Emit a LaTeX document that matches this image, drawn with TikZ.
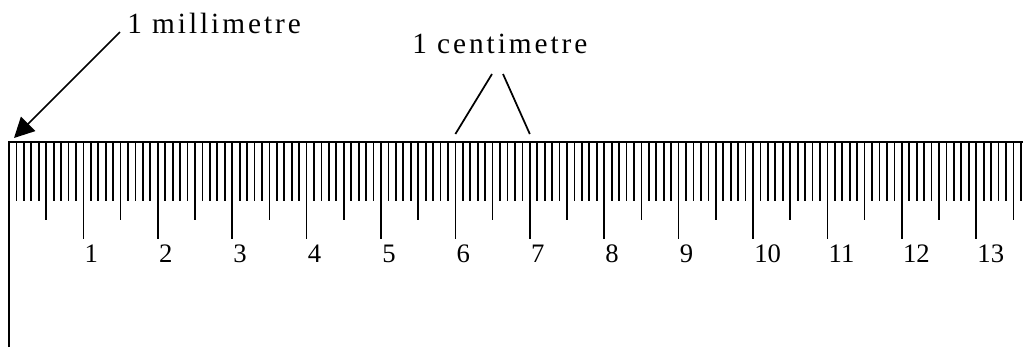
\documentclass[tikz,border=0pt]{standalone}
\usepackage{fontspec}
\setmainfont{Liberation Serif}
\newfontfamily\spacedfont[LetterSpace=10]{Liberation Serif}
\usetikzlibrary{arrows.meta,calc}

\begin{document}
\begin{tikzpicture}[x=0.75pt, y=-0.75pt,
    rule/.style={line width=1.3pt},
    caption/.style={font=\spacedfont\fontsize{22}{26}\selectfont, inner sep=0pt, anchor=base west},
    num/.style={font=\fontsize{20}{24}\selectfont, inner sep=0pt, anchor=base west}
]
    \useasboundingbox (0,0) rectangle (1023,347);

    % Ruler edge
    \draw[rule] (9,347) -- (9,142) -- (1023,142);

    % Millimetre ticks
    \foreach \i [evaluate=\i as \len using {mod(\i,10)==0 ? 239 : (mod(\i,5)==0 ? 220 : 201)}] in {1,...,136}
        \draw[rule] (9+7.44*\i,142) -- (9+7.44*\i,\len);

    % Centimetre numbers
    \foreach \c in {1,...,13}
        \node[num] (n\c) at (10+74.4*\c,262) {\c};

    % Captions
    \node[caption] (mm) at (127,33) {1 millimetre};
    \node[caption] (cm) at (412,53) {1 centimetre};

    \coordinate (mmtip) at (14,138);
    \coordinate (cm6) at (9+74.4*6,134);
    \coordinate (cm7) at (9+74.4*7,134);

    % Pointers
    \draw[rule, -{Triangle[length=15pt, width=15pt]}] ($(mm.base west)+(-7,-1)$) -- (mmtip);
    \draw[rule] ($(cm.base west)+(80,21)$) -- (cm6);
    \draw[rule] ($(cm.base west)+(91,21)$) -- (cm7);
\end{tikzpicture}
\end{document}
